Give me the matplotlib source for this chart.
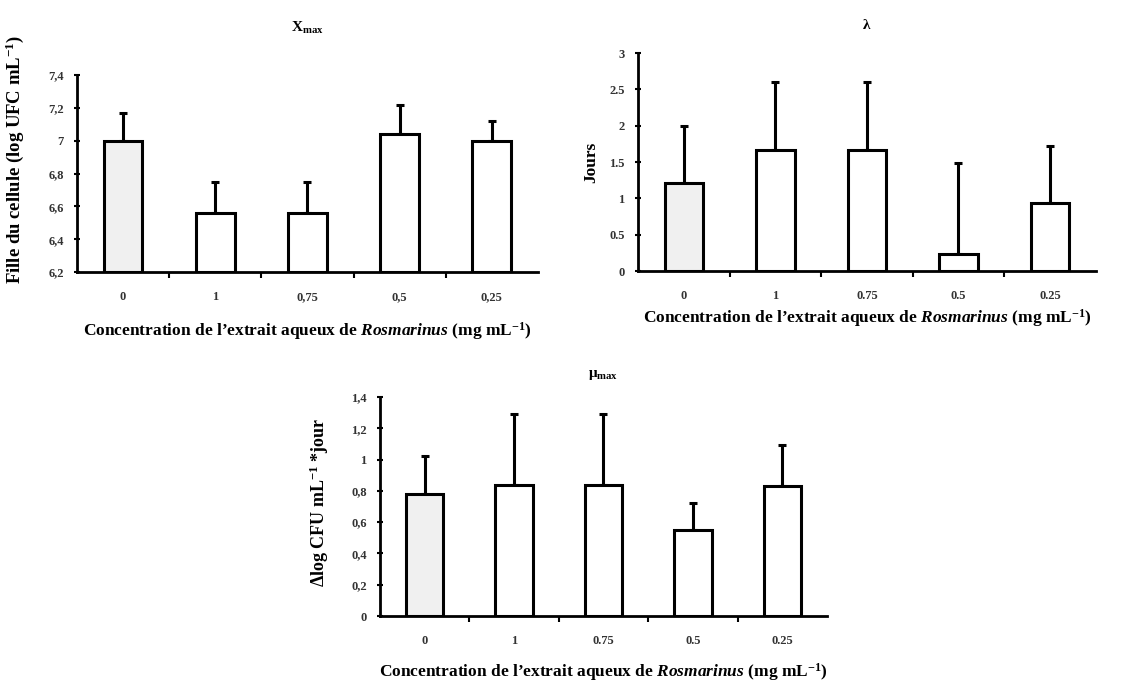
import matplotlib
matplotlib.use("Agg")
import matplotlib.pyplot as plt
import numpy as np

plt.rcParams["font.family"] = ["Liberation Serif", "DejaVu Serif"]
plt.rcParams["font.weight"] = "bold"
plt.rcParams["axes.labelweight"] = "bold"
plt.rcParams["axes.titleweight"] = "bold"
plt.rcParams["mathtext.fontset"] = "custom"
plt.rcParams["mathtext.rm"] = "Liberation Serif:bold"
plt.rcParams["mathtext.it"] = "Liberation Serif:bold:italic"
plt.rcParams["mathtext.bf"] = "Liberation Serif:bold"

concentrations = ["0", "1", "0.75", "0.5", "0.25"]

# Xmax (log UFC/mL)
xmax_mean = [7.00, 6.56, 6.56, 7.04, 7.00]
xmax_err = [0.17, 0.19, 0.19, 0.18, 0.12]

# lambda (jours)
lag_mean = [1.21, 1.67, 1.67, 0.23, 0.94]
lag_err = [0.79, 0.93, 0.93, 1.25, 0.78]

# mu max (delta log CFU/mL/jour)
mu_mean = [0.78, 0.84, 0.84, 0.55, 0.83]
mu_err = [0.24, 0.45, 0.45, 0.17, 0.26]

xlabel = "Concentration de l\u2019extrait aqueux de $\\mathit{Rosmarinus}$ (mg mL$^{-1}$)"


def bar_panel(ax, means, errs, ymin, ymax, step, decimal, xdecimal,
              ylabel, ylabel_size, title, title_y):
    x = np.arange(len(means))
    colors = ["#f0f0f0"] + ["white"] * (len(means) - 1)
    ax.bar(x, np.array(means) - ymin, bottom=ymin, width=0.42, color=colors,
           edgecolor="black", linewidth=2.2, zorder=2)
    ax.errorbar(x, means, yerr=[np.zeros(len(errs)), errs], fmt="none",
                ecolor="black", elinewidth=2.2, capsize=3, capthick=2.2, zorder=1)
    ax.set_xlim(-0.5, len(means) - 0.5)
    ax.set_ylim(ymin, ymax)

    yt = np.arange(ymin, ymax + step / 2, step)
    ax.set_yticks(yt)
    ax.set_yticklabels([("%g" % round(v, 2)).replace(".", decimal) for v in yt])

    # ticks between categories, labels centred under the bars
    ax.set_xticks(np.arange(0.5, len(means) - 0.5), minor=False)
    ax.set_xticklabels([])
    ax.set_xticks(x, minor=True)
    ax.set_xticklabels([c.replace(".", xdecimal) for c in concentrations], minor=True)
    ax.tick_params(axis="x", which="minor", length=0, pad=14, labelsize=9, labelcolor="#333333")
    ax.tick_params(axis="x", which="major", direction="out", length=4, width=1.5)
    ax.tick_params(axis="y", direction="inout", length=5, width=1.5, labelsize=9,
                   labelcolor="#333333", pad=7)

    for s in ["top", "right"]:
        ax.spines[s].set_visible(False)
    for s in ["left", "bottom"]:
        ax.spines[s].set_linewidth(2)

    ax.set_ylabel(ylabel, fontsize=ylabel_size)
    ax.set_title(title, fontsize=11, pad=0, y=title_y)


fig = plt.figure(figsize=(11.39, 6.84), dpi=100)

ax1 = fig.add_axes([0.0676, 0.6023, 0.4047, 0.288])
bar_panel(ax1, xmax_mean, xmax_err, 6.2, 7.4, 0.2, ",", ",",
          "Fille du cellule (log UFC mL$^{-1}$)", 13.5, "X$_{\\mathrm{max}}$", 1.22)
ax1.set_xlabel(xlabel, fontsize=12.5, labelpad=12)
ax1.yaxis.set_label_coords(-0.111, 0.57)

ax2 = fig.add_axes([0.5601, 0.6038, 0.402, 0.3187])
bar_panel(ax2, lag_mean, lag_err, 0, 3, 0.5, ".", ".", "Jours", 12.5, "\u03bb", 1.11)
ax2.set_xlabel(xlabel, fontsize=12.5, labelpad=3)
ax2.yaxis.set_label_coords(-0.085, 0.5)

ax3 = fig.add_axes([0.3336, 0.0994, 0.3925, 0.3202])
bar_panel(ax3, mu_mean, mu_err, 0, 1.4, 0.2, ",", ".",
          "\u0394log CFU mL$^{-1}$ *jour", 13, "\u03bc$_{\\mathrm{max}}$", 1.09)
ax3.set_xlabel(xlabel, fontsize=12.5, labelpad=10)
ax3.yaxis.set_label_coords(-0.11, 0.52)

fig.savefig("out.png", dpi=100)
